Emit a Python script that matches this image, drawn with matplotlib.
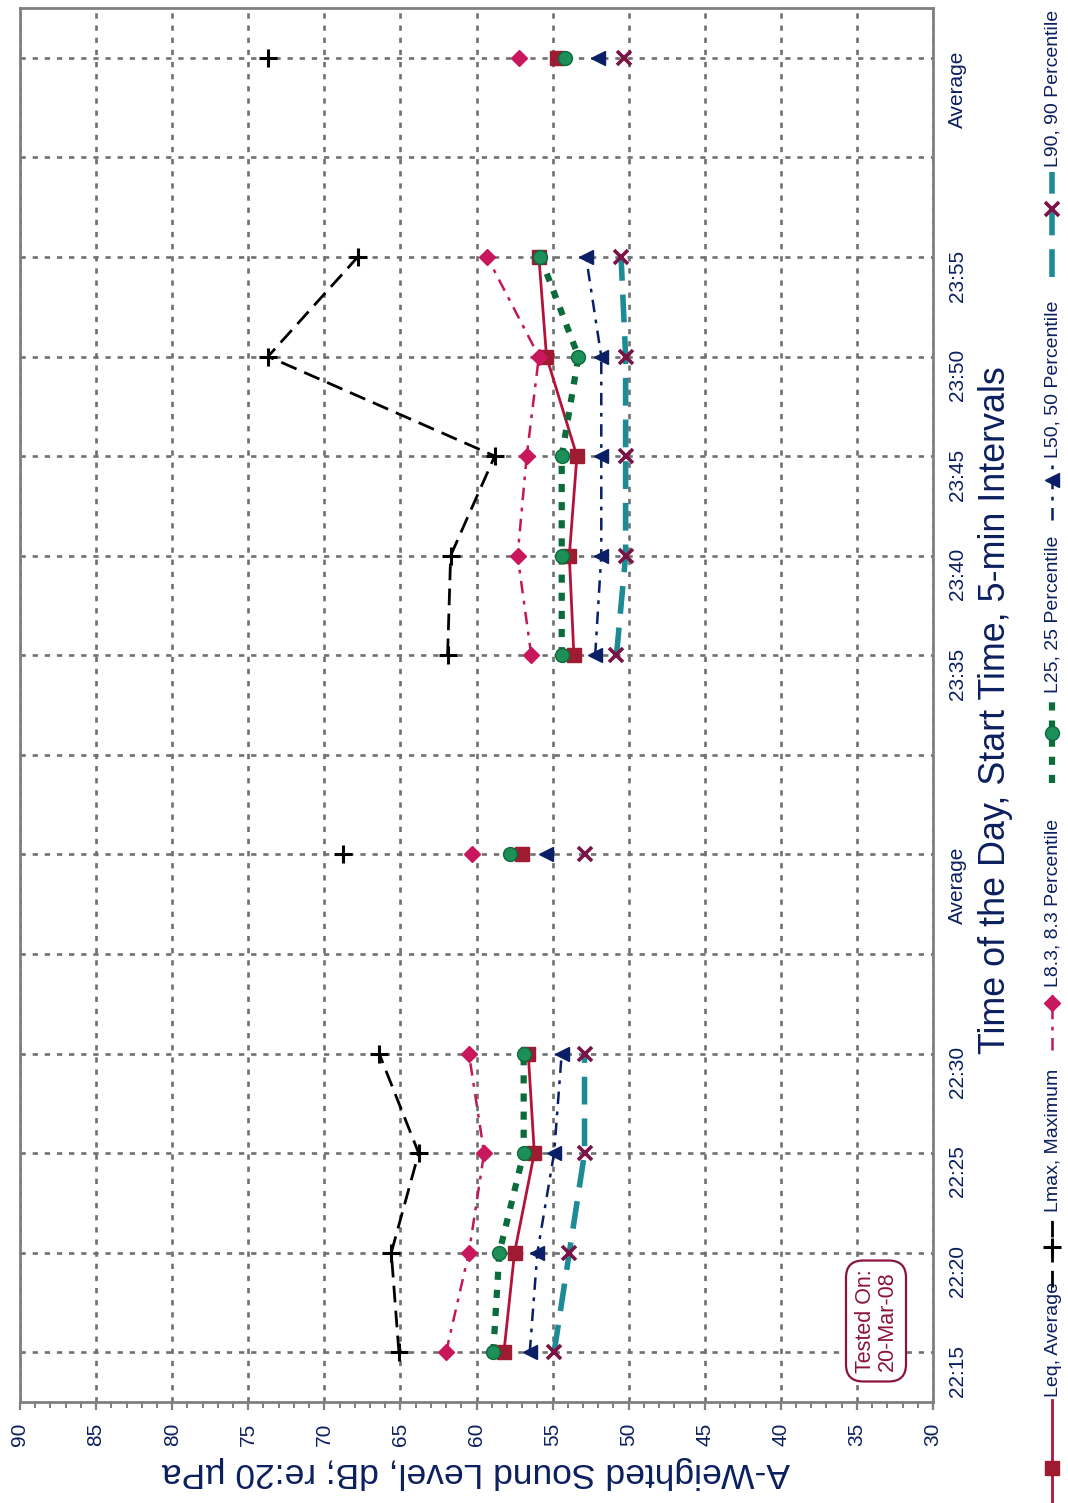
import numpy as np
import matplotlib
matplotlib.use("Agg")
import matplotlib.pyplot as plt
from matplotlib.lines import Line2D
from matplotlib.ticker import MultipleLocator

plt.rcParams['font.family'] = ['Liberation Sans', 'DejaVu Sans']
plt.rcParams['xtick.labelsize'] = 15
plt.rcParams['ytick.labelsize'] = 15

# ---------------- data ----------------
categories = ["22:15", "22:20", "22:25", "22:30", "", "Average", "",
              "23:35", "23:40", "23:45", "23:50", "23:55", "", "Average"]
nan = np.nan
leq  = [58.2, 57.5, 56.2, 56.6, nan, 57.0, nan, 53.6, 53.9, 53.4, 55.4, 55.9, nan, 54.7]
lmax = [65.1, 65.6, 63.8, 66.4, nan, 68.8, nan, 61.9, 61.7, 58.8, 73.7, 67.8, nan, 73.7]
l83  = [62.0, 60.5, 59.5, 60.5, nan, 60.3, nan, 56.4, 57.3, 56.7, 55.9, 59.3, nan, 57.2]
l25  = [58.9, 58.5, 56.9, 56.9, nan, 57.8, nan, 54.4, 54.4, 54.4, 53.3, 55.8, nan, 54.2]
l50  = [56.5, 56.0, 54.9, 54.4, nan, 55.4, nan, 52.2, 51.8, 51.8, 51.8, 52.8, nan, 52.0]
l90  = [54.9, 53.9, 52.9, 52.9, nan, 52.9, nan, 50.8, 50.2, 50.2, 50.2, 50.5, nan, 50.3]
series_names = ["Leq, Average", "Lmax, Maximum", "L8.3, 8.3 Percentile",
                "L25, 25 Percentile", "L50, 50 Percentile", "L90, 90 Percentile"]
x_label = "A-Weighted Sound Level, dB; re:20 \u00b5Pa"
y_label = "Time of the Day, Start Time, 5-min Intervals"
note = "Tested On:\n20-Mar-08"

# ---------------- styles ----------------
navy = "#0c1f5e"
styles = [
    dict(color="#b5123b", lw=2.0, ls="-", marker="s", ms=9.5, mfc="#9e1b32", mec="#9e1b32", mew=1),
    dict(color="black", lw=2.0, ls=(0, (6, 3)), marker="+", ms=13, mfc="black", mec="black", mew=2.2),
    dict(color="#c2185b", lw=1.8, ls=(0, (5, 3, 1.5, 3)), marker="D", ms=8, mfc="#c8175d", mec="#c8175d", mew=1),
    dict(color="#0b6b3a", lw=4.5, ls=(0, (1.3, 1.6)), marker="o", ms=10, mfc="#1f8f5a", mec="#0b6b3a", mew=1),
    dict(color="#0a1f66", lw=1.8, ls=(0, (5, 3, 1.5, 3)), marker="<", ms=10, mfc="#0a1f66", mec="#0a1f66", mew=1),
    dict(color="#1c8b96", lw=4.0, ls=(0, (5, 2.5)), marker="x", ms=10, mfc="#7b1446", mec="#7b1446", mew=2.6),
]
data = [leq, lmax, l83, l25, l50, l90]

W, H = 1068, 1503
fig = plt.figure(figsize=(W / 100, H / 100), dpi=100)
fx = lambda px: px / W
fy = lambda py: 1 - py / H

ax = fig.add_axes([fx(20), fy(1402), fx(933) - fx(20), fy(8) - fy(1402)])
pos = np.arange(len(categories))

for vals, st in zip(data, styles):
    ax.plot(vals, pos, color=st["color"], lw=st["lw"], linestyle=st["ls"],
            marker=st["marker"], markersize=st["ms"], markerfacecolor=st["mfc"],
            markeredgecolor=st["mec"], markeredgewidth=st["mew"], zorder=3)

ax.set_xlim(90, 30)
ax.set_ylim(-0.5, len(categories) - 0.5)
ax.xaxis.set_major_locator(MultipleLocator(5))
ax.xaxis.set_minor_locator(MultipleLocator(1))
ax.set_yticks(pos)
ax.set_yticklabels(categories)
ax.yaxis.tick_right()
ax.tick_params(axis="y", which="both", length=0, pad=11, labelrotation=90,
               labelsize=15, labelcolor=navy)
ax.tick_params(axis="x", which="major", length=6, width=1.6, color="#808080",
               labelrotation=90, labelsize=15, labelcolor=navy, pad=9)
ax.tick_params(axis="x", which="minor", length=4, width=1.4, color="#808080")
for sp in ax.spines.values():
    sp.set_color("#808080")
    sp.set_linewidth(2)
ax.grid(True, which="major", axis="both", color="#707070", lw=1.9,
        linestyle=(0, (2, 2.6)), zorder=0)
ax.set_axisbelow(True)

# axis titles (rotated page)
fig.text(fx(476), fy(1472), x_label, rotation=180, ha="center", va="center",
         fontsize=25.5, color=navy)
fig.text(fx(996), fy(710), y_label, rotation=90, ha="center", va="center",
         fontsize=25.8, color=navy)

# note box
fig.text(fx(876), fy(1321), note, rotation=90, ha="center", va="center",
         fontsize=15.5, color="#8b1538", linespacing=1.05,
         bbox=dict(boxstyle="round,pad=0.4,rounding_size=0.8", fc="white",
                   ec="#8b1538", lw=1.6))

# manual rotated legend
leg_x = fx(1052)
leg_items = [  # (line_start_px, line_end_px, marker_px, text_bottom_px)
    (1503, 1400, 1468, 1397),
    (1287, 1215, 1247, 1212),
    (1050, 990, 1003, 987),
    (783, 697, 733, 693),
    (520, 462, 480, 458),
    (277, 172, 209, 167),
]
for (l0, l1, lm, tb), st, name in zip(leg_items, styles, series_names):
    fig.add_artist(Line2D([leg_x, leg_x], [fy(l0), fy(l1)], transform=fig.transFigure,
                          color=st["color"], lw=st["lw"], linestyle=st["ls"]))
    m = st["marker"]
    fig.add_artist(Line2D([leg_x], [fy(lm)], transform=fig.transFigure, lw=0,
                          marker=m, markersize=st["ms"], markerfacecolor=st["mfc"],
                          markeredgecolor=st["mec"], markeredgewidth=st["mew"]))
    fig.text(fx(1053), fy(tb), name, rotation=90, ha="center", va="bottom",
             fontsize=14, color=navy)

fig.savefig("out.png", dpi=100)
